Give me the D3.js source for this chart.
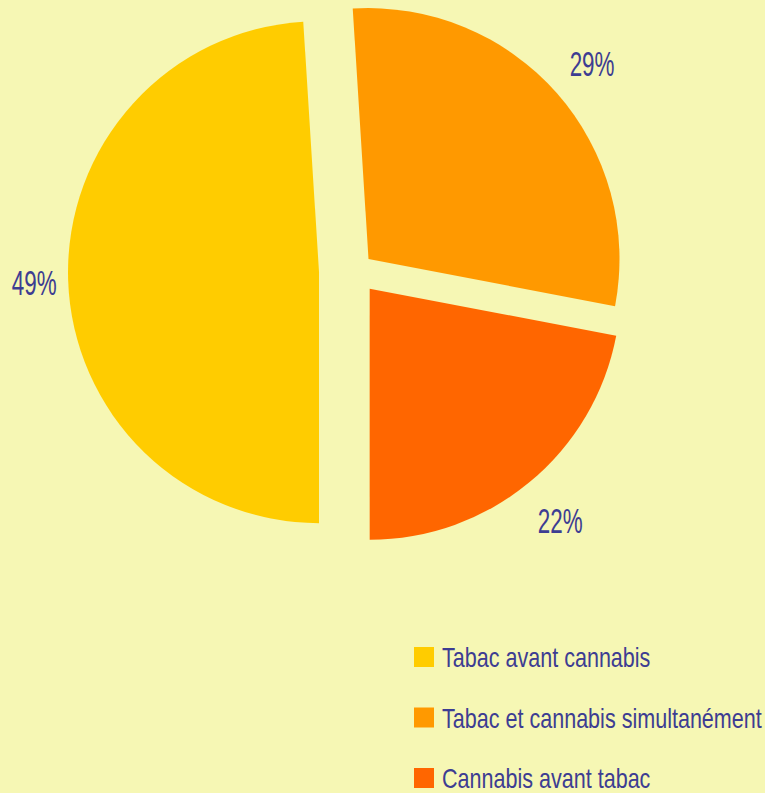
<!DOCTYPE html>
<html>
<head>
<meta charset="utf-8">
<script src="https://cdn.jsdelivr.net/npm/d3@7"></script>
<style>
  body { margin: 0; background: #f6f7b4; }
  svg { display: block; }
  text { font-family: "Liberation Sans", Arial, sans-serif; fill: #3d3d92; }
</style>
</head>
<body>
<svg id="chart" width="765" height="793"></svg>
<script>
// data
var categories = ["Tabac avant cannabis", "Tabac et cannabis simultanément", "Cannabis avant tabac"];
var values = [49, 29, 22];
var colors = ["#ffcc00", "#ff9900", "#ff6600"];
var explode = [36, 18, 23];   // how far each slice is pulled out
var labelGap = [34, 47, 48];  // label distance beyond the rim

var W = 765, H = 793;
var cx = 355, cy = 271, R = 251;

var svg = d3.select("#chart");
svg.append("rect").attr("width", W).attr("height", H).attr("fill", "#f6f7b4");

var pie = d3.pie().sort(null).startAngle(Math.PI).endAngle(3 * Math.PI);
var arc = d3.arc().innerRadius(0).outerRadius(R);

var slices = pie(values);

var g = svg.append("g").attr("transform", `translate(${cx},${cy})`);

slices.forEach((d, i) => {
    var mid = (d.startAngle + d.endAngle) / 2;
    var ox = Math.sin(mid) * explode[i], oy = -Math.cos(mid) * explode[i];
    var sg = g.append("g").attr("transform", `translate(${ox},${oy})`);
    sg.append("path").attr("d", arc(d)).attr("fill", colors[i]);
    var lr = R + labelGap[i];
    var lx = Math.sin(mid) * lr, ly = -Math.cos(mid) * lr;
    sg.append("text")
        .attr("transform", `translate(${lx},${ly}) scale(0.64,1)`)
        .attr("text-anchor", "middle")
        .attr("dy", "0.4em")
        .style("font-size", "35px")
        .text(values[i] + "%");
});

// legend
var leg = svg.append("g").attr("transform", "translate(414,0)");
var rowY = d3.scalePoint().domain(categories).range([657, 778]);
categories.forEach((c, i) => {
    var y = rowY(c);
    leg.append("rect").attr("x", 0).attr("y", y - 10).attr("width", 20).attr("height", 20).attr("fill", colors[i]);
    leg.append("text")
        .attr("transform", `translate(28,${y}) scale(0.77,1)`)
        .attr("dy", "0.36em")
        .style("font-size", "28px")
        .text(c);
});
</script>
</body>
</html>
